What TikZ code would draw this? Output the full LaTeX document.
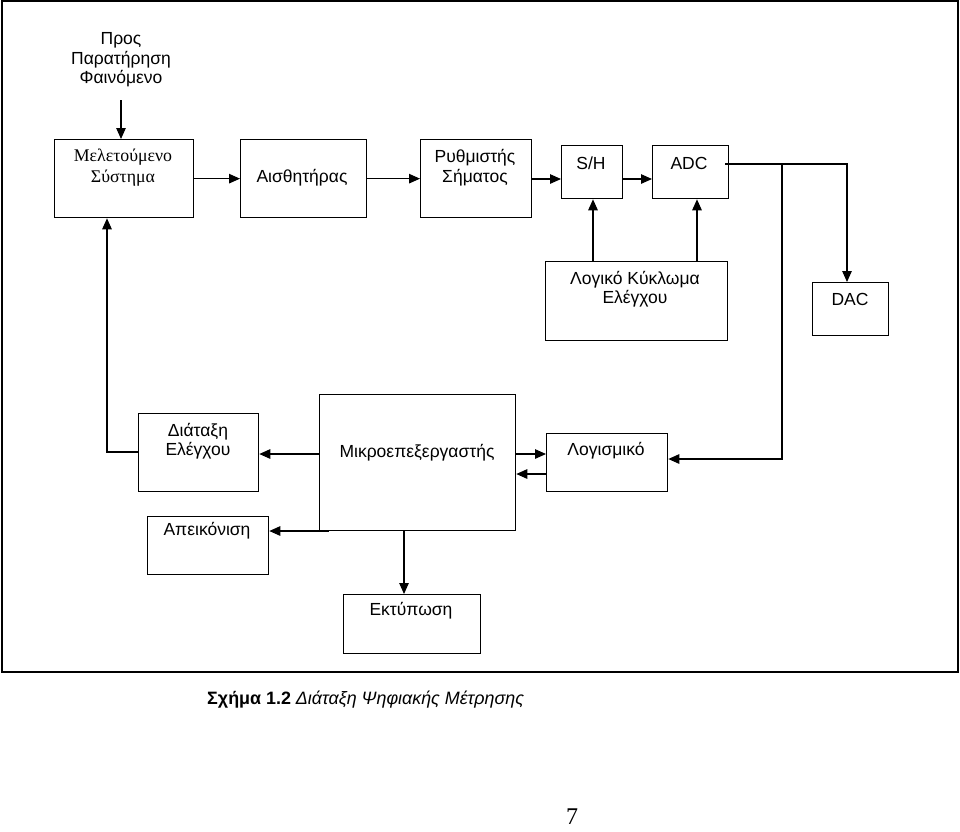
\documentclass[tikz,border=0pt]{standalone}
\usepackage{fontspec}
\setmainfont{Liberation Sans}
\newfontfamily\serifgr{Liberation Serif}
\usetikzlibrary{arrows.meta}
\tikzset{
  box/.style={draw=black, line width=1.3pt, rectangle, inner sep=0pt, anchor=north west},
  txt/.style={inner sep=0pt, align=center, font=\fontsize{17.5}{19.5}\selectfont},
  conn/.style={draw=black, line width=1.2pt},
  arr/.style={conn, -{Triangle[length=11pt,width=9.5pt]}},
}
\begin{document}
\begin{tikzpicture}[x=1pt,y=-1pt]
\useasboundingbox (0,0) rectangle (960,831);
\fill[white] (0,0) rectangle (960,831);
\draw[line width=2.2pt] (2,1) rectangle (958,672);

% boxes
\node[box, minimum width=139pt, minimum height=78pt] (mel) at (54,139) {};
\node[box, minimum width=126pt, minimum height=78pt] (ais) at (240,139) {};
\node[box, minimum width=111pt, minimum height=78pt] (rth) at (420,139) {};
\node[box, minimum width=61pt, minimum height=53pt] (sh) at (561,145) {};
\node[box, minimum width=76pt, minimum height=53pt] (adc) at (652,145) {};
\node[box, minimum width=182pt, minimum height=79pt] (log) at (545,261) {};
\node[box, minimum width=76pt, minimum height=53pt] (dac) at (812,282) {};
\node[box, minimum width=120pt, minimum height=78pt] (dia) at (138,413) {};
\node[box, minimum width=196pt, minimum height=136pt] (mik) at (319,394) {};
\node[box, minimum width=121pt, minimum height=58pt] (lgs) at (546,433) {};
\node[box, minimum width=121pt, minimum height=58pt] (ape) at (147,516) {};
\node[box, minimum width=137pt, minimum height=59pt] (ekt) at (343,594) {};

% texts
\node[txt] (tobs) at (121,60) {Προς\\Παρατήρηση\\Φαινόμενο};
\node[txt, font=\serifgr\fontsize{17.8}{21}\selectfont] (tmel) at (123,168) {Μελετούμενο\\Σύστημα};
\node[txt] (tais) at (302,178) {Αισθητήρας};
\node[txt] (trth) at (475,167.5) {Ρυθμιστής\\Σήματος};
\node[txt] (tsh) at (591,163) {S/H};
\node[txt] (tadc) at (689,163) {ADC};
\node[txt] (tlog) at (635,289) {Λογικό Κύκλωμα\\Ελέγχου};
\node[txt] (tdac) at (850,299) {DAC};
\node[txt] (tdia) at (198,441) {Διάταξη\\Ελέγχου};
\node[txt] (tmik) at (417,453) {Μικροεπεξεργαστής};
\node[txt] (tlgs) at (606,451) {Λογισμικό};
\node[txt] (tape) at (207,531) {Απεικόνιση};
\node[txt] (tekt) at (411,611) {Εκτύπωση};
\node[txt, anchor=west, font=\fontsize{17.9}{20}\selectfont] (cap) at (207,700) {\textbf{Σχήμα 1.2} \textit{Διάταξη Ψηφιακής Μέτρησης}};
\node[txt, font=\serifgr\fontsize{24}{26}\selectfont] (pg) at (572,817) {7};

% coordinates
\coordinate (obsend) at (121,100);
\coordinate (adcout) at (725,164);
\coordinate (adccorner) at (847,164);
\coordinate (junc) at (782,164);
\coordinate (jdown) at (782,459);
\coordinate (dialeft) at (107,452);
\coordinate (mikbl) at (329,531);

% connectors
\draw[arr] (obsend) -- (obsend |- mel.north);
\draw[arr] (mel.east) -- (ais.west);
\draw[arr] (ais.east) -- (rth.west);
\draw[arr] (rth.east |- 0,179) -- (sh.west |- 0,179);
\draw[arr] (sh.east |- 0,179) -- (adc.west |- 0,179);
\draw[arr] (log.north -| 593,0) -- (sh.south -| 593,0);
\draw[arr] (log.north -| 697,0) -- (adc.south -| 697,0);
\draw[arr] (adcout) -- (adccorner) -- (adccorner |- dac.north);
\draw[arr] (junc) -- (jdown) -- (lgs.east |- jdown);
\draw[arr] (dia.west |- dialeft) -- (dialeft) -- (dialeft |- mel.south);
\draw[arr] (mik.west |- 0,454) -- (dia.east |- 0,454);
\draw[arr] (mikbl) -- (ape.east |- mikbl);
\draw[arr] (mik.south -| 404,0) -- (ekt.north -| 404,0);
\draw[arr] (mik.east |- 0,454) -- (lgs.west |- 0,454);
\draw[arr] (lgs.west |- 0,474) -- (mik.east |- 0,474);
\end{tikzpicture}
\end{document}
